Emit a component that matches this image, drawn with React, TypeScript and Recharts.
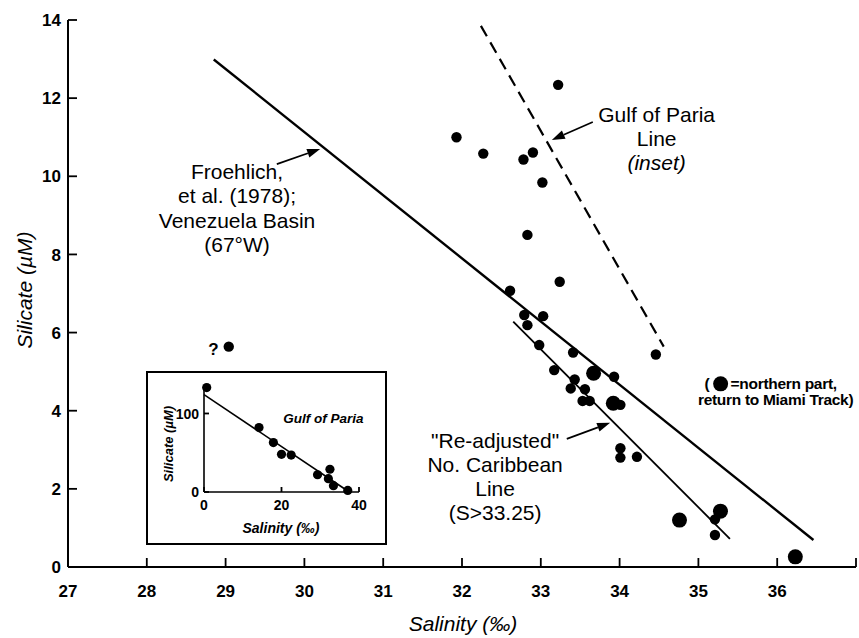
import { ReferenceDot, ReferenceLine, Scatter, ScatterChart, XAxis, YAxis } from 'recharts'

// main chart: salinity (‰) vs silicate (µM)
const salinity = [
  33.22, 31.93, 32.27, 32.78, 32.9, 33.02, 32.83, 33.24, 32.61, 32.79, 33.03, 32.83, 32.98, 33.41,
  33.17, 33.93, 33.43, 33.38, 33.56, 33.53, 33.62, 34.01, 34.01, 34.01, 34.22, 35.21, 35.21, 34.46,
]
const silicate = [
  12.34, 11.0, 10.58, 10.43, 10.61, 9.84, 8.5, 7.3, 7.07, 6.45, 6.42, 6.19, 5.68, 5.49, 5.04, 4.87,
  4.8, 4.57, 4.55, 4.25, 4.25, 4.15, 3.04, 2.8, 2.82, 1.22, 0.82, 5.44,
]

// northern part, return to Miami track (big dots)
const northSalinity = [33.67, 33.92, 34.76, 35.28, 36.23]
const northSilicate = [4.96, 4.19, 1.2, 1.43, 0.26]

// questionable sample
const oddSalinity = [29.04]
const oddSilicate = [5.64]

// fitted lines (end points)
const froehlichSalinity = [28.85, 36.46]
const froehlichSilicate = [12.99, 0.69]
const pariaSalinity = [32.24, 34.56]
const pariaSilicate = [13.85, 5.64]
const caribSalinity = [32.65, 35.4]
const caribSilicate = [6.28, 0.72]

const xTicks = [27, 28, 29, 30, 31, 32, 33, 34, 35, 36, 37]
const xTickLabels = ['27', '28', '29', '30', '31', '32', '33', '34', '35', '36', '']
const yTicks = [0, 2, 4, 6, 8, 10, 12, 14]

// inset: Gulf of Paria
const insetSalinity = [0.7, 14.2, 17.9, 20.0, 22.5, 29.3, 32.5, 32.1, 33.4, 37.1]
const insetSilicate = [133, 82, 63, 48, 47, 22, 29, 17, 8, 2]
const insetLineSalinity = [0, 37.2]
const insetLineSilicate = [124, 1]
const insetXTicks = [0, 20, 40]
const insetYTicks = [0, 100]

const zip = (xs: number[], ys: number[]) => xs.map((x, i) => ({ x, y: ys[i] }))

const font = '"Liberation Sans", Arial, Helvetica, sans-serif'

const dot = (r: number) => (p: any) => <circle cx={p.cx} cy={p.cy} r={r} fill="#000" />
const noDot = () => <g />

// ticks point inward, labels sit outside
const bottomTick = (len: number, gap: number, size: number, fmt: (v: number) => string) => (p: any) => (
  <g>
    <line x1={p.x} y1={p.y} x2={p.x} y2={p.y - len} stroke="#000" strokeWidth={1.8} />
    <text x={p.x} y={p.y + gap} textAnchor="middle" fontFamily={font} fontSize={size} fontWeight={700} fill="#000">
      {fmt(p.payload.value)}
    </text>
  </g>
)
const leftTick = (len: number, gap: number, size: number) => (p: any) => (
  <g>
    <line x1={p.x} y1={p.y} x2={p.x + len} y2={p.y} stroke="#000" strokeWidth={1.8} />
    <text x={p.x - gap} y={p.y + size * 0.36} textAnchor="end" fontFamily={font} fontSize={size} fontWeight={700} fill="#000">
      {String(p.payload.value)}
    </text>
  </g>
)

function Arrow(p: any) {
  const { x1, y1, x2, y2 } = p
  const a = Math.atan2(y2 - y1, x2 - x1)
  const len = 13
  const half = 4.5
  const bx = x2 - len * Math.cos(a)
  const by = y2 - len * Math.sin(a)
  const pts = [
    `${x2},${y2}`,
    `${bx + half * Math.sin(a)},${by - half * Math.cos(a)}`,
    `${bx - half * Math.sin(a)},${by + half * Math.cos(a)}`,
  ].join(' ')
  return (
    <g>
      <line x1={x1} y1={y1} x2={bx} y2={by} stroke="#000" strokeWidth={1.7} />
      <polygon points={pts} fill="#000" />
    </g>
  )
}

function TextBlock({ cx, cy, lines, step }: { cx: number; cy: number; lines: { t: string; i?: boolean }[]; step: number }) {
  return (
    <g>
      {lines.map((l, k) => (
        <text
          key={k}
          x={cx}
          y={cy + k * step}
          textAnchor="middle"
          fontFamily={font}
          fontSize={21}
          fontStyle={l.i ? 'italic' : 'normal'}
          fill="#000"
        >
          {l.t}
        </text>
      ))}
    </g>
  )
}

function Legend({ cx, cy }: { cx: number; cy: number }) {
  return (
    <g fontFamily={font} fontSize={15.5} fontWeight={700} fill="#000">
      <text x={cx - 71} y={cy}>(</text>
      <circle cx={cx - 55} cy={cy - 5} r={7.5} fill="#000" />
      <text x={cx - 45} y={cy} letterSpacing={-0.3}>=northern part,</text>
      <text x={cx} y={cy + 16} textAnchor="middle" letterSpacing={-0.3}>return to Miami Track)</text>
    </g>
  )
}

function Inset() {
  return (
    <div
      style={{
        position: 'absolute',
        left: 146,
        top: 371,
        width: 241,
        height: 174,
        border: '2px solid #000',
        boxSizing: 'border-box',
        background: '#fff',
      }}
    >
      <ScatterChart width={237} height={170} margin={{ top: 13, right: 26, bottom: 0, left: 0 }}>
        <XAxis
          type="number"
          dataKey="x"
          domain={[0, 40]}
          ticks={insetXTicks}
          interval={0}
          height={51}
          tick={bottomTick(5, 18, 14, (v) => String(v))}
          tickLine={false}
          tickSize={0}
          tickMargin={0}
          axisLine={{ stroke: '#000', strokeWidth: 1.6 }}
          label={{
            content: () => (
              <text x={133} y={160} textAnchor="middle" fontFamily={font} fontSize={14} fontWeight={700} fontStyle="italic">
                Salinity (‰)
              </text>
            ),
          }}
        />
        <YAxis
          type="number"
          dataKey="y"
          domain={[0, 135]}
          ticks={insetYTicks}
          interval={0}
          width={56}
          tick={leftTick(5, 5, 14)}
          tickLine={false}
          tickSize={0}
          tickMargin={0}
          axisLine={{ stroke: '#000', strokeWidth: 1.6 }}
          label={{
            content: () => (
              <text
                x={20}
                y={71}
                textAnchor="middle"
                transform="rotate(-90 20 71)"
                dy={5}
                fontFamily={font}
                fontSize={13}
                fontWeight={700}
                fontStyle="italic"
              >
                Silicate (µM)
              </text>
            ),
          }}
        />
        <Scatter
          data={zip(insetLineSalinity, insetLineSilicate)}
          fill="#000"
          line={{ stroke: '#000', strokeWidth: 1.6 }}
          shape={noDot}
          isAnimationActive={false}
        />
        <Scatter data={zip(insetSalinity, insetSilicate)} fill="#000" shape={dot(4.6)} isAnimationActive={false} />
        <ReferenceDot
          x={30.8}
          y={94}
          r={0}
          shape={(p: any) => (
            <text x={p.cx} y={p.cy + 5} textAnchor="middle" fontFamily={font} fontSize={13.5} fontWeight={700} fontStyle="italic">
              Gulf of Paria
            </text>
          )}
        />
      </ScatterChart>
    </div>
  )
}

export default function App() {
  return (
    <div style={{ position: 'absolute', left: 0, top: 0, width: 859, height: 638, background: '#fff' }}>
      <ScatterChart width={859} height={638} margin={{ top: 20, right: 3, bottom: 0, left: 0 }}>
        <XAxis
          type="number"
          dataKey="x"
          domain={[27, 37]}
          ticks={xTicks}
          interval={0}
          height={71}
          tick={bottomTick(9, 30, 17, (v) => xTickLabels[xTicks.indexOf(v)])}
          tickLine={false}
          tickSize={0}
          tickMargin={0}
          axisLine={{ stroke: '#000', strokeWidth: 2 }}
          label={{
            content: () => (
              <text x={463} y={631} textAnchor="middle" fontFamily={font} fontSize={21} fontStyle="italic">
                Salinity (‰)
              </text>
            ),
          }}
        />
        <YAxis
          type="number"
          dataKey="y"
          domain={[0, 14]}
          ticks={yTicks}
          interval={0}
          width={68}
          tick={leftTick(9, 7, 17)}
          tickLine={false}
          tickSize={0}
          tickMargin={0}
          axisLine={{ stroke: '#000', strokeWidth: 2 }}
          label={{
            content: () => (
              <text
                x={25}
                y={290}
                dy={7}
                textAnchor="middle"
                transform="rotate(-90 25 290)"
                fontFamily={font}
                fontSize={21}
                fontStyle="italic"
              >
                Silicate (µM)
              </text>
            ),
          }}
        />

        <Scatter
          data={zip(froehlichSalinity, froehlichSilicate)}
          fill="#000"
          line={{ stroke: '#000', strokeWidth: 2.4 }}
          shape={noDot}
          isAnimationActive={false}
        />
        <Scatter
          data={zip(pariaSalinity, pariaSilicate)}
          fill="#000"
          line={{ stroke: '#000', strokeWidth: 2.2, strokeDasharray: '12 7' }}
          shape={noDot}
          isAnimationActive={false}
        />
        <Scatter
          data={zip(caribSalinity, caribSilicate)}
          fill="#000"
          line={{ stroke: '#000', strokeWidth: 1.8 }}
          shape={noDot}
          isAnimationActive={false}
        />

        <Scatter data={zip(salinity, silicate)} fill="#000" shape={dot(5.2)} isAnimationActive={false} />
        <Scatter data={zip(northSalinity, northSilicate)} fill="#000" shape={dot(7.5)} isAnimationActive={false} />
        <Scatter
          data={zip(oddSalinity, oddSilicate)}
          fill="#000"
          isAnimationActive={false}
          shape={(p: any) => (
            <g>
              <circle cx={p.cx} cy={p.cy} r={5.2} fill="#000" />
              <text x={p.cx - 10} y={p.cy + 8} textAnchor="end" fontFamily={font} fontSize={17} fontWeight={700}>
                ?
              </text>
            </g>
          )}
        />

        <ReferenceLine segment={[{ x: 29.65, y: 10.31 }, { x: 30.2, y: 10.7 }]} shape={Arrow} />
        <ReferenceLine segment={[{ x: 33.66, y: 11.39 }, { x: 33.14, y: 10.93 }]} shape={Arrow} />
        <ReferenceLine segment={[{ x: 33.33, y: 3.28 }, { x: 33.88, y: 3.69 }]} shape={Arrow} />

        <ReferenceDot
          x={29.145}
          y={9.93}
          r={0}
          shape={(p: any) => (
            <TextBlock
              cx={p.cx}
              cy={p.cy}
              step={24.3}
              lines={[{ t: 'Froehlich,' }, { t: 'et al. (1978);' }, { t: 'Venezuela Basin' }, { t: '(67°W)' }]}
            />
          )}
        />
        <ReferenceDot
          x={34.47}
          y={11.39}
          r={0}
          shape={(p: any) => (
            <TextBlock cx={p.cx} cy={p.cy} step={24} lines={[{ t: 'Gulf of Paria' }, { t: 'Line' }, { t: '(inset)', i: true }]} />
          )}
        />
        <ReferenceDot
          x={32.42}
          y={3.05}
          r={0}
          shape={(p: any) => (
            <TextBlock
              cx={p.cx}
              cy={p.cy}
              step={24}
              lines={[{ t: '"Re-adjusted"' }, { t: 'No. Caribbean' }, { t: 'Line' }, { t: '(S>33.25)' }]}
            />
          )}
        />
        <ReferenceDot x={35.98} y={4.56} r={0} shape={(p: any) => <Legend cx={p.cx} cy={p.cy} />} />
      </ScatterChart>
      <Inset />
    </div>
  )
}
